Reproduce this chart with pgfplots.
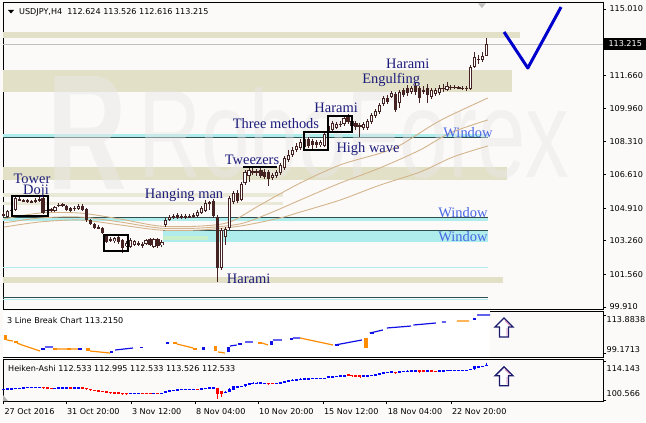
\documentclass[border=0pt]{standalone}
\usepackage{fontspec}
\usepackage{pgfplots}
\pgfplotsset{compat=1.18}
\usepackage{pgfplotstable}
\setmainfont{DejaVu Sans}
\newfontfamily\seriffont{Liberation Serif}
\newfontfamily\wmfont{Liberation Sans}

\definecolor{bg}{RGB}{252,250,248}
\definecolor{tanband}{RGB}{226,225,199}
\definecolor{cyanband}{RGB}{175,236,236}
\definecolor{darkline}{RGB}{47,79,79}
\definecolor{candle}{RGB}{70,35,35}
\definecolor{maline}{RGB}{212,180,140}
\definecolor{pattern}{RGB}{28,28,125}
\definecolor{windowc}{RGB}{72,102,230}
\definecolor{vline}{RGB}{0,0,205}
\definecolor{lborange}{RGB}{255,140,0}
\definecolor{lbblue}{RGB}{15,15,230}
\definecolor{hared}{RGB}{255,0,0}
\definecolor{hablue}{RGB}{0,0,255}
\definecolor{wmcol}{RGB}{232,231,231}
\definecolor{lightgreen}{RGB}{200,240,205}
\definecolor{arrownavy}{RGB}{25,25,110}
\definecolor{arrowpink}{RGB}{205,120,170}

\newcommand{\tk}{\fontsize{8.1}{10}\selectfont}
\newcommand{\pat}{\seriffont\fontsize{14.5}{16}\selectfont}

% USDJPY H4 candles: bar index, open, high, low, close
\pgfplotstableread{
i o h l c
0 104.52 104.72 104.42 104.62
1 104.47 104.83 104.42 104.78
2 104.78 104.88 104.72 104.83
3 104.83 105.48 104.78 105.43
4 105.33 105.48 105.28 105.36
5 105.31 105.38 105.23 105.26
6 105.33 105.38 105.18 105.23
7 105.28 105.33 105.18 105.23
8 105.23 105.43 105.18 105.33
9 105.33 105.59 105.23 105.38
10 105.43 105.48 104.62 104.67
11 104.78 104.88 104.72 104.83
12 104.88 104.93 104.72 104.78
13 104.78 105.03 104.72 104.98
14 105.05 105.18 104.98 105.08
15 105.13 105.18 104.98 105.03
16 105.03 105.08 104.78 104.83
17 104.93 104.98 104.72 104.78
18 104.88 105.03 104.78 104.93
19 104.88 105.13 104.83 105.03
20 105.03 105.13 104.78 104.83
21 104.88 104.93 104.22 104.32
22 104.32 104.37 104.07 104.12
23 104.12 104.17 103.86 103.91
24 103.96 104.07 103.86 103.91
25 103.91 103.96 103.61 103.66
26 103.51 103.56 103.15 103.20
27 103.36 103.46 103.20 103.30
28 103.25 103.46 103.15 103.41
29 103.46 103.51 103.10 103.20
30 103.30 103.36 102.65 102.90
31 103.00 103.25 102.95 103.15
32 102.95 103.41 102.90 103.30
33 103.05 103.30 103.00 103.25
34 103.15 103.25 103.00 103.10
35 103.10 103.20 102.90 103.00
36 103.10 103.36 103.05 103.30
37 103.36 103.41 103.00 103.05
38 102.95 103.41 102.90 103.36
39 103.36 103.41 102.90 103.00
40 103.05 103.30 102.95 103.20
41 104.07 104.42 103.96 104.32
42 104.32 104.57 104.27 104.47
43 104.47 104.62 104.37 104.52
44 104.57 104.67 104.37 104.42
45 104.47 104.62 104.37 104.52
46 104.52 104.62 104.37 104.47
47 104.47 104.62 104.42 104.52
48 104.47 104.67 104.42 104.57
49 104.52 104.83 104.47 104.72
50 104.67 105.03 104.62 104.93
51 104.78 105.33 104.72 105.18
52 105.23 105.28 104.83 105.13
53 105.28 105.38 104.42 104.52
54 104.47 104.57 101.18 101.88
55 101.88 103.91 101.78 103.81
56 103.46 103.96 103.05 103.86
57 103.91 105.53 103.81 105.43
58 105.23 105.79 105.13 105.69
59 105.69 105.84 105.18 105.28
60 105.33 106.24 105.28 106.14
61 106.19 106.85 106.09 106.75
62 106.55 107.01 106.24 106.85
63 106.80 106.95 106.60 106.75
64 106.70 106.90 106.55 106.80
65 106.85 106.95 106.45 106.55
66 106.75 106.90 106.40 106.50
67 106.75 106.85 106.04 106.40
68 106.45 106.70 106.35 106.60
69 106.55 106.85 106.45 106.75
70 106.70 107.21 106.60 107.11
71 106.96 107.56 106.85 107.46
72 107.36 107.87 107.26 107.61
73 107.61 108.02 107.51 107.87
74 107.87 108.22 107.77 108.07
75 107.97 108.43 107.87 108.27
76 108.02 108.58 107.97 108.43
77 108.43 108.53 107.97 108.07
78 108.32 108.43 107.92 108.12
79 108.27 108.37 107.97 108.12
80 108.12 108.37 108.02 108.27
81 108.07 108.83 108.02 108.68
82 108.83 109.19 108.73 109.08
83 108.88 109.34 108.83 109.24
84 108.98 109.29 108.93 109.19
85 109.19 109.34 109.03 109.13
86 109.19 109.59 109.08 109.49
87 109.54 109.69 109.19 109.29
88 109.34 109.44 108.98 109.08
89 109.24 109.34 108.88 109.03
90 109.08 109.24 108.53 109.13
91 108.98 109.29 108.88 109.19
92 108.98 109.44 108.88 109.34
93 109.29 109.74 109.19 109.64
94 109.59 109.95 109.49 109.84
95 109.79 110.25 109.69 110.15
96 110.20 110.61 110.10 110.50
97 110.50 110.66 110.20 110.30
98 110.55 110.86 110.50 110.76
99 110.71 110.81 109.79 109.90
100 110.25 110.91 110.00 110.81
101 110.91 111.01 110.55 110.66
102 111.01 111.16 110.61 110.76
103 110.81 111.11 110.71 111.01
104 111.11 111.26 110.66 110.81
105 111.01 111.11 110.25 110.50
106 110.91 111.11 110.71 110.81
107 111.01 111.21 110.25 110.66
108 110.55 111.01 110.45 110.91
109 110.71 111.01 110.61 110.91
110 110.76 111.16 110.66 111.01
111 110.96 111.21 110.81 111.01
112 110.91 111.32 110.86 111.11
113 111.06 111.16 110.91 111.01
114 111.01 111.16 110.96 111.06
115 111.01 111.11 110.96 111.04
116 111.01 111.11 110.91 110.96
117 110.96 111.11 110.86 111.01
118 110.96 112.18 110.91 112.08
119 112.08 112.84 112.02 112.58
120 112.43 112.68 112.23 112.48
121 112.43 112.84 112.33 112.63
122 112.624 113.526 112.616 113.215
}\candles

% Heiken-Ashi: index, open, close, low, high
\pgfplotstableread{
i o c l h
0 104.45 104.55 104.40 104.60
1 104.55 104.65 104.50 104.70
2 104.65 104.75 104.60 104.80
3 104.75 104.85 104.70 104.95
4 104.85 104.95 104.80 105.05
5 105.00 105.05 104.95 105.10
6 105.05 105.10 105.00 105.15
7 105.10 105.15 105.05 105.20
8 105.15 105.20 105.10 105.25
9 105.20 105.25 105.15 105.30
10 105.25 105.05 104.60 105.30
11 105.05 104.95 104.70 105.05
12 104.95 104.85 104.70 104.95
13 104.85 104.90 104.80 104.95
14 104.90 104.95 104.85 105.00
15 104.95 105.00 104.90 105.05
16 105.00 105.02 104.95 105.05
17 105.00 104.90 104.75 105.00
18 104.90 104.92 104.85 104.95
19 104.92 104.96 104.88 105.00
20 104.95 104.90 104.80 104.98
21 104.90 104.60 104.20 104.90
22 104.60 104.30 104.10 104.60
23 104.30 104.05 103.85 104.30
24 104.05 103.95 103.85 104.05
25 103.95 103.75 103.60 103.95
26 103.75 103.45 103.15 103.75
27 103.45 103.35 103.20 103.45
28 103.35 103.30 103.15 103.35
29 103.30 103.25 103.10 103.30
30 103.25 103.05 102.65 103.25
31 103.05 103.02 102.95 103.05
32 103.02 103.10 102.95 103.15
33 103.10 103.15 103.05 103.20
34 103.15 103.18 103.10 103.20
35 103.18 103.12 102.90 103.18
36 103.12 103.10 103.05 103.15
37 103.10 103.08 103.00 103.12
38 103.08 103.12 103.00 103.15
39 103.12 103.10 103.00 103.14
40 103.10 103.15 103.05 103.20
41 103.15 103.70 103.10 103.75
42 103.70 104.10 103.65 104.15
43 104.10 104.30 104.05 104.35
44 104.30 104.40 104.25 104.45
45 104.40 104.48 104.35 104.52
46 104.48 104.50 104.45 104.55
47 104.50 104.52 104.47 104.56
48 104.52 104.54 104.48 104.58
49 104.54 104.50 104.45 104.56
50 104.55 104.70 104.50 104.75
51 104.70 104.90 104.65 104.95
52 104.90 105.00 104.85 105.05
53 105.00 105.05 104.95 105.10
54 105.05 103.00 101.18 105.05
55 104.00 102.85 101.78 104.00
56 103.40 103.60 103.05 103.70
57 103.50 104.70 103.45 104.75
58 104.10 105.45 104.05 105.50
59 104.80 105.50 104.75 105.55
60 105.15 105.70 105.10 105.75
61 105.45 106.40 105.40 106.45
62 105.90 106.60 105.85 106.65
63 106.20 106.77 106.15 106.80
64 106.50 106.75 106.45 106.80
65 106.60 106.70 106.55 106.75
66 106.60 106.65 106.55 106.70
67 106.65 106.40 106.05 106.65
68 106.55 106.52 106.45 106.56
69 106.53 106.65 106.50 106.70
70 106.60 106.90 106.55 106.95
71 106.75 107.20 106.70 107.25
72 107.00 107.55 106.95 107.60
73 107.30 107.80 107.25 107.85
74 107.55 108.00 107.50 108.05
75 107.80 108.15 107.75 108.20
76 108.00 108.25 107.95 108.30
77 108.10 108.25 108.05 108.30
78 108.20 108.22 108.15 108.25
79 108.20 108.22 108.15 108.25
80 108.20 108.25 108.15 108.30
81 108.22 108.40 108.18 108.45
82 108.30 108.93 108.25 108.98
83 108.60 109.07 108.55 109.12
84 108.85 109.10 108.80 109.15
85 108.95 109.17 108.90 109.22
86 109.06 109.35 109.00 109.40
87 109.45 109.38 109.19 109.45
88 109.41 109.20 108.98 109.41
89 109.30 109.12 108.88 109.30
90 109.20 109.00 108.53 109.20
91 109.10 109.12 109.05 109.15
92 109.12 109.15 109.08 109.20
93 109.15 109.45 109.10 109.50
94 109.30 109.75 109.25 109.80
95 109.55 110.00 109.50 110.05
96 109.80 110.35 109.75 110.40
97 110.10 110.40 110.05 110.45
98 110.25 110.65 110.20 110.70
99 110.45 110.30 109.79 110.45
100 110.40 110.50 110.35 110.55
101 110.45 110.80 110.40 110.85
102 110.60 110.90 110.55 110.95
103 110.75 110.95 110.70 111.00
104 110.85 110.95 110.80 111.00
105 110.90 110.72 110.25 110.90
106 110.80 110.77 110.70 110.82
107 110.78 110.80 110.74 110.84
108 110.80 110.75 110.70 110.82
109 110.77 110.74 110.70 110.79
110 110.75 110.95 110.72 111.00
111 110.85 111.00 110.82 111.05
112 110.90 111.05 110.87 111.10
113 111.00 111.05 110.97 111.10
114 111.02 111.05 111.00 111.08
115 111.03 111.04 111.00 111.08
116 111.03 111.05 111.00 111.08
117 111.04 111.06 111.00 111.10
118 111.05 111.55 111.00 111.60
119 111.30 112.40 111.25 112.45
120 111.85 112.45 111.80 112.50
121 112.15 112.55 112.10 112.60
122 112.533 112.995 112.533 113.526
}\hadata

% 3 Line Break blocks
\pgfplotstableread{
i lo hi
0.5 104.19 106.13
3.2 103.03 103.80
13 100.31 101.09
16.5 100.31 101.09
21.3 99.93 101.09
43.3 102.64 103.41
48.4 100.31 101.09
53.5 99.93 101.86
64.8 103.03 103.41
91.5 101.09 104.97
}\lbo
\pgfplotstableread{
i lo hi
10 100.31 101.09
19.3 100.31 101.09
27.3 99.15 99.93
34.8 101.09 101.48
41.4 102.64 103.41
50.5 100.31 101.48
56.8 99.54 101.48
59.7 102.25 103.03
67.7 102.25 103.80
72.7 104.19 104.97
84.2 101.86 102.64
93 106.5 107.3
119 111.94 112.72
}\lbb

\pgfplotsset{
  panel/.style={
    scale only axis, width=600bp,
    xmin=-0.126, xmax=151.39,
    axis line style={black, line width=1bp},
    axis background/.style={fill=bg},
    clip=false,
    xtick=\empty,
    ytick pos=right, yticklabel pos=right,
    tick align=outside,
    major tick length=3bp,
    tick style={black, line width=0.8bp},
    yticklabel style={font=\tk, anchor=west},
    /pgf/number format/assume math mode=true,
  },
  ebar/.style={forget plot, draw=none, mark=none,
    error bars/y dir=both, error bars/y explicit,
    error bars/error mark=none,
    error bars/error bar style={#1}},
}

\newcommand{\zone}[5]{\addplot[fill=#1, draw=none, forget plot] coordinates {(#2,#4) (#3,#4) (#3,#5) (#2,#5)} -- cycle;}
\newcommand{\hlevel}[5]{\addplot[#1, line width=#5, forget plot] coordinates {(#2,#4) (#3,#4)};}

\begin{document}
\begin{tikzpicture}[x=1bp,y=1bp]
\fill[bg] (0,0) rectangle (646,422);
\path[use as bounding box] (0,0) rectangle (646,422);

% ---------------- main panel ----------------
\begin{axis}[panel, at={(3bp,113bp)}, anchor=south west, height=306bp,
  ymin=99.809, ymax=115.314,
  ytick={115.01,111.66,109.96,108.31,106.61,104.91,103.26,101.56,99.91},
  yticklabels={115.010,111.660,109.960,108.310,106.610,104.910,103.260,101.560,99.910}]
% zones
\zone{tanband}{-0.126}{130.4}{113.54}{113.845}
\zone{tanband}{-0.126}{128.4}{110.81}{111.92}
\zone{cyanband}{-0.126}{122.3}{108.53}{108.68}
\hlevel{darkline}{-0.126}{122.3}{108.52}{1bp}
\zone{tanband}{-0.126}{127.1}{106.35}{107.00}
\zone{tanband!70!bg}{-0.126}{70.6}{105.48}{105.69}
\zone{tanband!70!bg}{-0.126}{70.6}{105.08}{105.23}
\zone{cyanband}{-0.126}{122.3}{104.27}{104.47}
\hlevel{darkline}{-0.126}{122.3}{104.47}{1bp}
\zone{cyanband}{40.3}{122.3}{103.20}{103.81}
\zone{lightgreen}{40.3}{51.7}{103.30}{103.51}
\hlevel{darkline}{40.3}{122.3}{103.81}{1bp}
\hlevel{cyanband}{-0.126}{122.3}{101.89}{1bp}
\zone{tanband}{-0.126}{126.2}{101.13}{101.43}
\hlevel{darkline}{-0.126}{122.3}{100.37}{1bp}
\hlevel{cyanband}{-0.126}{122.3}{100.27}{1bp}
\hlevel{black!25}{-0.126}{151.39}{113.215}{1bp}
% watermark
\node[anchor=base west, inner sep=0, text=wmcol, opacity=0.5, xscale=0.67] at (axis cs:11.2,105.84) {\wmfont\bfseries\fontsize{165}{165}\selectfont R};
\node[anchor=base west, inner sep=0, text=wmcol, opacity=0.45, xscale=0.7] at (axis cs:33.97,106.45) {\wmfont\fontsize{125}{125}\selectfont RoboForex};
% moving averages
\addplot[maline, line width=0.9bp, smooth, forget plot] coordinates {(0.1,104.37) (9.2,104.67) (19.3,104.67) (29.4,104.37) (39.5,104.01) (49.6,104.01) (57.2,104.22) (64.8,105.08) (74.9,106.19) (85.0,107.11) (95.1,107.7) (100.1,108.1) (110.2,109.35) (122.3,110.50)};
\addplot[maline, line width=0.9bp, smooth, forget plot] coordinates {(0.1,104.17) (9.2,104.42) (19.3,104.47) (29.4,104.22) (39.5,103.91) (49.6,103.91) (59.7,104.12) (67.3,104.67) (74.9,105.33) (85.0,106.19) (95.1,106.96) (105.2,107.87) (112.8,108.73) (122.3,109.39)};
\addplot[maline, line width=0.9bp, smooth, forget plot] coordinates {(0.1,103.96) (9.2,104.22) (19.3,104.32) (29.4,104.07) (39.5,103.81) (49.6,103.81) (59.7,104.01) (69.8,104.42) (74.9,104.72) (85.0,105.33) (95.1,106.09) (105.2,106.75) (113.5,107.51) (122.3,108.07)};
% candles
\addplot[ebar={draw=candle, line width=1bp}] table[x=i, y expr={(\thisrow{h}+\thisrow{l})/2}, y error expr={(\thisrow{h}-\thisrow{l})/2}]{\candles};
\addplot[ebar={draw=candle, line width=3.2bp}] table[x=i, y expr={(\thisrow{o}+\thisrow{c})/2}, y error expr={max(abs(\thisrow{c}-\thisrow{o})/2,0.026)}]{\candles};
\addplot[ebar={draw=white, line width=1.2bp}, restrict expr to domain={\thisrow{c}-\thisrow{o}}{0.11:100}] table[x=i, y expr={(\thisrow{o}+\thisrow{c})/2}, y error expr={(\thisrow{c}-\thisrow{o})/2-0.05}]{\candles};
% pattern boxes
\addplot[black, line width=1.8bp, forget plot] coordinates {(2.15,105.53) (11.24,105.53) (11.24,104.52) (2.15,104.52)} -- cycle;
\addplot[black, line width=1.8bp, forget plot] coordinates {(25.4,103.56) (31.4,103.56) (31.4,102.75) (25.4,102.75)} -- cycle;
\addplot[black, line width=1.8bp, forget plot] coordinates {(75.9,108.78) (81.95,108.78) (81.95,107.87) (75.9,107.87)} -- cycle;
\addplot[black, line width=1.8bp, forget plot] coordinates {(81.95,109.59) (88.0,109.59) (88.0,108.78) (81.95,108.78)} -- cycle;
\addplot[black, line width=2bp, forget plot] coordinates {(60.5,107.0) (69.1,107.0)};
% forecast V
\addplot[vline, line width=3bp, line join=round, forget plot] coordinates {(126.4,113.845) (132.4,112.02) (140.8,115.11)};
% shift marker
\addplot[fill=black!25, draw=none, forget plot] coordinates {(119.8,115.30) (121.8,115.30) (120.8,115.06)} -- cycle;
% labels
\node[anchor=base, text=pattern, inner sep=0] at (axis cs:7.2,106.193) {\pat Tower};
\node[anchor=base, text=pattern, inner sep=0] at (axis cs:8.2,105.636) {\pat Doji};
\node[anchor=base, text=pattern, inner sep=0] at (axis cs:45.6,105.433) {\pat Hanging man};
\node[anchor=base, text=pattern, inner sep=0] at (axis cs:61.9,101.076) {\pat Harami};
\node[anchor=base, text=pattern, inner sep=0] at (axis cs:62.75,107.156) {\pat Tweezers};
\node[anchor=base, text=pattern, inner sep=0] at (axis cs:68.8,108.930) {\pat Three methods};
\node[anchor=base, text=pattern, inner sep=0] at (axis cs:84.0,109.766) {\pat Harami};
\node[anchor=base, text=pattern, inner sep=0] at (axis cs:92.05,107.764) {\pat High wave};
\node[anchor=base, text=pattern, inner sep=0] at (axis cs:97.9,111.260) {\pat Engulfing};
\node[anchor=base, text=pattern, inner sep=0] at (axis cs:102.1,111.995) {\pat Harami};
\node[anchor=base, text=windowc, inner sep=0] at (axis cs:117.3,108.474) {\pat Window};
\node[anchor=base, text=windowc, inner sep=0] at (axis cs:116.0,104.45) {\pat Window};
\node[anchor=base, text=windowc, inner sep=0] at (axis cs:116.0,103.204) {\pat Window};
\end{axis}

% ---------------- 3 line break panel ----------------
\begin{axis}[panel, at={(3bp,65bp)}, anchor=south west, height=46bp,
  ymin=97.60, ymax=115.43, ytick={113.8838,99.1713}, yticklabels={,},
  unbounded coords=jump]
\zone{white}{-0.126}{122.9}{97.65}{115.38}
\addplot[lborange, line width=1.2bp, forget plot] coordinates {(0.88,104.19) (2.4,103.80) (2.4,nan) (3.4,103.03) (4.67,102.25) (9.2,99.93) (9.2,nan) (13.5,100.70) (18.8,100.70) (18.8,nan) (21.8,99.93) (26.9,99.15) (26.9,nan) (43.8,102.64) (47.9,101.09) (47.9,nan) (54.2,99.54) (55.9,99.15) (55.9,nan) (65.3,103.03) (66.8,102.25) (66.8,nan) (74.9,104.97) (83.2,102.25) (83.2,nan) (114.5,111.55) (117.6,111.55)};
\addplot[lbblue, line width=1.2bp, forget plot] coordinates {(10.5,101.48) (12.5,101.48) (12.5,nan) (28.2,100.31) (32.7,101.09) (32.7,nan) (57.2,101.86) (58.9,102.25) (58.9,nan) (61.0,103.41) (63.0,103.41) (63.0,nan) (68.1,104.19) (70.3,104.19) (70.3,nan) (73.1,104.97) (74.9,104.97) (74.9,nan) (83.7,102.25) (90.5,104.19) (90.5,nan) (92.5,106.90) (95.8,108.07) (95.8,nan) (96.8,108.84) (102.9,109.6) (102.9,nan) (103.5,110.00) (109.2,110.78) (109.2,nan) (110.7,111.17) (111.7,111.17) (111.7,nan) (119.6,113.88) (122.9,113.88)};
\addplot[ebar={draw=lborange, line width=3.5bp}] table[x=i, y expr={(\thisrow{lo}+\thisrow{hi})/2}, y error expr={(\thisrow{hi}-\thisrow{lo})/2}]{\lbo};
\addplot[ebar={draw=lbblue, line width=3.5bp}] table[x=i, y expr={(\thisrow{lo}+\thisrow{hi})/2}, y error expr={(\thisrow{hi}-\thisrow{lo})/2}]{\lbb};
\end{axis}

% ---------------- Heiken-Ashi panel ----------------
\begin{axis}[panel, at={(3bp,21bp)}, anchor=south west, height=42bp,
  ymin=100.414, ymax=114.897, ytick={114.143,100.566}, yticklabels={,},
  xtick={0,15.78,32.2,48.4,64.3,80.7,96.8,113.0},
  xticklabels={27 Oct 2016,31 Oct 20:00,3 Nov 12:00,8 Nov 04:00,10 Nov 20:00,15 Nov 12:00,18 Nov 04:00,22 Nov 20:00},
  xtick pos=bottom, xticklabel pos=bottom,
  xticklabel style={font=\tk, anchor=north west, xshift=-2.5bp, yshift=-0.5bp}]
\addplot[fill=black!30, draw=none, forget plot] coordinates {(-0.126,100.414) (1.14,100.414) (-0.126,102.48)} -- cycle;
\addplot[ebar={draw=hablue, line width=0.8bp}, restrict expr to domain={\thisrow{c}-\thisrow{o}}{0:100}] table[x=i, y expr={(\thisrow{h}+\thisrow{l})/2}, y error expr={(\thisrow{h}-\thisrow{l})/2}]{\hadata};
\addplot[ebar={draw=hared, line width=0.8bp}, restrict expr to domain={\thisrow{c}-\thisrow{o}}{-100:-0.00001}] table[x=i, y expr={(\thisrow{h}+\thisrow{l})/2}, y error expr={(\thisrow{h}-\thisrow{l})/2}]{\hadata};
\addplot[ebar={draw=hablue, line width=3bp}, restrict expr to domain={\thisrow{c}-\thisrow{o}}{0:100}] table[x=i, y expr={(\thisrow{o}+\thisrow{c})/2}, y error expr={max(abs(\thisrow{c}-\thisrow{o})/2,0.17)}]{\hadata};
\addplot[ebar={draw=hared, line width=3bp}, restrict expr to domain={\thisrow{c}-\thisrow{o}}{-100:-0.00001}] table[x=i, y expr={(\thisrow{o}+\thisrow{c})/2}, y error expr={max(abs(\thisrow{c}-\thisrow{o})/2,0.17)}]{\hadata};
\end{axis}

% ---------------- texts outside axes ----------------
\fill[black] (8,412) -- (14,412) -- (11,408.5) -- cycle;
\node[anchor=west, inner sep=0] at (19,410) {\tk USDJPY,H4\ \ 112.624 113.526 112.616 113.215};
\node[anchor=west, inner sep=0] at (7,101.5) {\tk 3 Line Break Chart 113.2150};
\node[anchor=west, inner sep=0] at (8,53.5) {\tk Heiken-Ashi 112.533 112.995 112.533 113.526 112.533};
\node[anchor=west, fill=black, text=white, inner sep=1.5bp, minimum height=12bp, minimum width=42bp] at (604,378) {\tk 113.215};
\node[anchor=west, inner sep=0] at (606.5,102) {\tk 113.8838};
\node[anchor=west, inner sep=0] at (606.5,72) {\tk 99.1713};
\node[anchor=west, inner sep=0] at (606.5,53) {\tk 114.143};
\node[anchor=west, inner sep=0] at (606.5,28) {\tk 100.566};
% arrows
\foreach \dy in {0,-49} {
  \begin{scope}[yshift=\dy]
  \draw[arrownavy, line width=1.3bp, fill=white, line join=miter] (504,104) -- (513,95) -- (508.5,95) -- (508.5,85) -- (499.5,85) -- (499.5,95) -- (495,95) -- cycle;
  \draw[arrowpink, line width=0.8bp] (505,101.5) -- (510,96.5) (507,94) -- (507,86.5);
  \end{scope}
}
\end{tikzpicture}
\end{document}
